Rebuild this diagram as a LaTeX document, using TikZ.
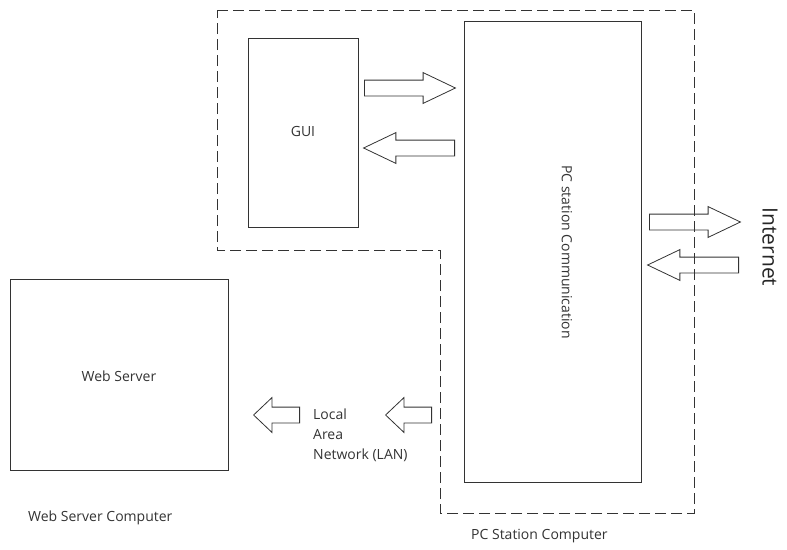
\documentclass[tikz,border=0pt]{standalone}
\usepackage{fontspec}
\setmainfont{Open Sans}
\usetikzlibrary{shapes.arrows}

\tikzset{
    box/.style={draw=black!80, line width=0.8pt, inner sep=0pt},
    lbl/.style={text=black!80, inner sep=0pt, font=\fontsize{14}{20}\selectfont},
    bigarrow/.style={single arrow, draw=black!80, line width=0.8pt, inner sep=0pt,
        inner ysep=7.5pt, single arrow head extend=7.5pt,
        single arrow tip angle=51, minimum height=91pt, anchor=tail},
    smallarrow/.style={single arrow, draw=black!80, line width=0.8pt, inner sep=0pt,
        inner ysep=7.5pt, single arrow head extend=9.5pt,
        single arrow tip angle=87, minimum height=46pt, anchor=tail},
    boundary/.style={draw=black!80, line width=0.8pt, dash pattern=on 11pt off 5pt},
}

\begin{document}
\begin{tikzpicture}[x=1pt, y=-1pt]
    \useasboundingbox (0, 0) rectangle (787, 549);

    % PC station computer
    \draw[boundary] (217, 10) -- (694, 10) -- (694, 513) -- (440, 513)
        -- (440, 250) -- (217, 250) -- cycle;

    \node[box, minimum width=110pt, minimum height=189pt] (gui) at (303, 132.5) {};
    \node[lbl] (guitext) at (303, 131) {GUI};

    \node[box, minimum width=177pt, minimum height=461pt] (pcstation) at (552.5, 251.5) {};
    \node[lbl, rotate=-90] (pctext) at (567, 252) {PC station Communication};

    \node[bigarrow] (guiout) at (364, 88) {};
    \node[bigarrow, rotate=180] (guiin) at (455, 148) {};

    % internet side
    \node[bigarrow] (netout) at (649, 222) {};
    \node[bigarrow, rotate=180] (netin) at (739, 265) {};
    \node[text=black!85, inner sep=0pt, rotate=-90, font=\fontsize{21}{24}\selectfont] (net) at (770, 247) {Internet};

    % web server computer
    \node[box, minimum width=218pt, minimum height=191pt] (webserver) at (119, 374.5) {};
    \node[lbl] (wstext) at (119, 376) {Web Server};

    \node[smallarrow, rotate=180] (lanout) at (300, 415) {};
    \node[smallarrow, rotate=180] (lanin) at (432, 415) {};
    \node[lbl, anchor=north west, align=left] (lan) at (313, 409) {Local\\Area\\Network (LAN)};

    \node[lbl, anchor=west] (wscomp) at (28, 518) {Web Server Computer};
    \node[lbl, anchor=west] (pccomp) at (471, 536) {PC Station Computer};
\end{tikzpicture}
\end{document}
